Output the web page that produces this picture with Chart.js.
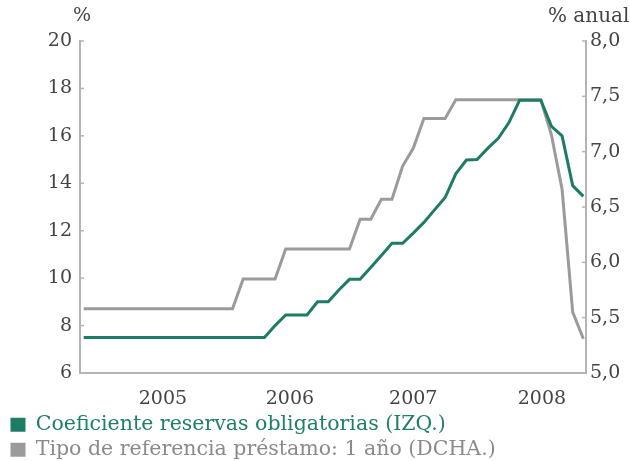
<!DOCTYPE html>
<html>
<head>
<meta charset="utf-8">
<script src="https://cdn.jsdelivr.net/npm/chart.js@4"></script>
<style>
  body { margin: 0; background: #fff; }
  canvas { display: block; }
</style>
</head>
<body>
<canvas id="chart" width="630" height="461"></canvas>
<script>
// Monthly series, feb 2005 - ene 2009
const reserveRatio = [
    7.5, 7.5, 7.5, 7.5, 7.5, 7.5, 7.5, 7.5, 7.5, 7.5, 7.5, 7.5,
    7.5, 7.5, 7.5, 7.5, 7.5, 7.5, 8.0, 8.45, 8.45, 8.45, 9.0, 9.0,
    9.5, 9.95, 9.95, 10.45, 10.95, 11.47, 11.47, 11.9, 12.35, 12.88, 13.4, 14.4,
    14.98, 15.0, 15.47, 15.9, 16.56, 17.5, 17.5, 17.5, 16.4, 16.0, 13.9, 13.45
];
const lendingRate = [
    5.58, 5.58, 5.58, 5.58, 5.58, 5.58, 5.58, 5.58, 5.58, 5.58, 5.58, 5.58,
    5.58, 5.58, 5.58, 5.85, 5.85, 5.85, 5.85, 6.12, 6.12, 6.12, 6.12, 6.12,
    6.12, 6.12, 6.39, 6.39, 6.57, 6.57, 6.87, 7.03, 7.30, 7.30, 7.30, 7.47,
    7.47, 7.47, 7.47, 7.47, 7.47, 7.47, 7.47, 7.47, 7.15, 6.66, 5.55, 5.31
];
const yearLabels = ['2005', '2006', '2007', '2008'];
const yearTickPos = [7.45, 19.4, 31.0, 43.1];
const seriesNames = [
    'Coeficiente reservas obligatorias (IZQ.)',
    'Tipo de referencia préstamo: 1 año (DCHA.)'
];

const GREEN = '#1e7c66';
const GREY = '#9b9b9b';
const AXIS = '#b4b4b4';
const TEXT = '#444';
const FONT = 'DejaVu Serif';

// inward tick marks + unit labels on top of the axes
const extras = {
    id: 'extras',
    afterDraw(chart) {
        const ctx = chart.ctx;
        const area = chart.chartArea;
        ctx.save();
        ctx.strokeStyle = AXIS;
        ctx.lineWidth = 1.5;
        chart.scales.y.ticks.forEach(t => {
            const py = chart.scales.y.getPixelForValue(t.value);
            ctx.beginPath();
            ctx.moveTo(area.left, py);
            ctx.lineTo(area.left + 4, py);
            ctx.stroke();
        });
        chart.scales.y2.ticks.forEach(t => {
            const py = chart.scales.y2.getPixelForValue(t.value);
            ctx.beginPath();
            ctx.moveTo(area.right, py);
            ctx.lineTo(area.right - 4, py);
            ctx.stroke();
        });
        ctx.fillStyle = TEXT;
        ctx.font = '19px "' + FONT + '"';
        ctx.textBaseline = 'middle';
        ctx.textAlign = 'center';
        ctx.fillText('%', 82, 16);
        ctx.textAlign = 'left';
        ctx.font = '20px "' + FONT + '"';
        ctx.fillText('% anual', 548, 17);
        ctx.restore();
    }
};

const points = arr => arr.map((v, i) => ({ x: i, y: v }));

new Chart(document.getElementById('chart'), {
    type: 'line',
    data: {
        datasets: [
            {
                label: seriesNames[0],
                data: points(reserveRatio),
                yAxisID: 'y',
                borderColor: GREEN,
                backgroundColor: GREEN,
                borderWidth: 3,
                pointRadius: 0,
                tension: 0
            },
            {
                label: seriesNames[1],
                data: points(lendingRate),
                yAxisID: 'y2',
                borderColor: GREY,
                backgroundColor: GREY,
                borderWidth: 3,
                pointRadius: 0,
                tension: 0
            }
        ]
    },
    options: {
        responsive: false,
        animation: false,
        layout: { padding: { top: 41, left: 6, right: 0, bottom: 0 } },
        plugins: {
            tooltip: { enabled: false },
            legend: {
                position: 'bottom',
                align: 'start',
                maxHeight: 51,
                labels: {
                    boxWidth: 15,
                    boxHeight: 14,
                    padding: 4.5,
                    font: { family: FONT, size: 20.5 },
                    generateLabels(chart) {
                        const items = Chart.defaults.plugins.legend.labels.generateLabels(chart);
                        items.forEach((it, i) => {
                            it.fontColor = i === 0 ? '#1f8068' : '#8a8a8a';
                            it.lineWidth = 0;
                        });
                        return items;
                    }
                }
            }
        },
        scales: {
            x: {
                type: 'linear',
                min: -0.35,
                max: 47.25,
                grid: { display: false, drawTicks: false },
                border: { display: true, color: AXIS, width: 2 },
                afterBuildTicks(axis) {
                    axis.ticks = yearTickPos.map(v => ({ value: v }));
                },
                afterFit(axis) { axis.height = 37; },
                ticks: {
                    autoSkip: false,
                    maxRotation: 0,
                    padding: 15,
                    color: TEXT,
                    font: { family: FONT, size: 19 },
                    callback: (v, i) => yearLabels[i]
                }
            },
            y: {
                position: 'left',
                min: 6,
                max: 20,
                grid: { display: false, drawTicks: false },
                border: { display: true, color: AXIS, width: 2 },
                afterFit(axis) { axis.width = 74; },
                ticks: {
                    stepSize: 2,
                    padding: 8,
                    color: TEXT,
                    font: { family: FONT, size: 19 }
                }
            },
            y2: {
                position: 'right',
                min: 5,
                max: 8,
                grid: { display: false, drawTicks: false },
                border: { display: true, color: AXIS, width: 2 },
                afterFit(axis) { axis.width = 44; },
                ticks: {
                    stepSize: 0.5,
                    padding: 4,
                    color: TEXT,
                    font: { family: FONT, size: 19 },
                    callback: v => v.toFixed(1).replace('.', ',')
                }
            }
        }
    },
    plugins: [extras]
});
</script>
</body>
</html>
